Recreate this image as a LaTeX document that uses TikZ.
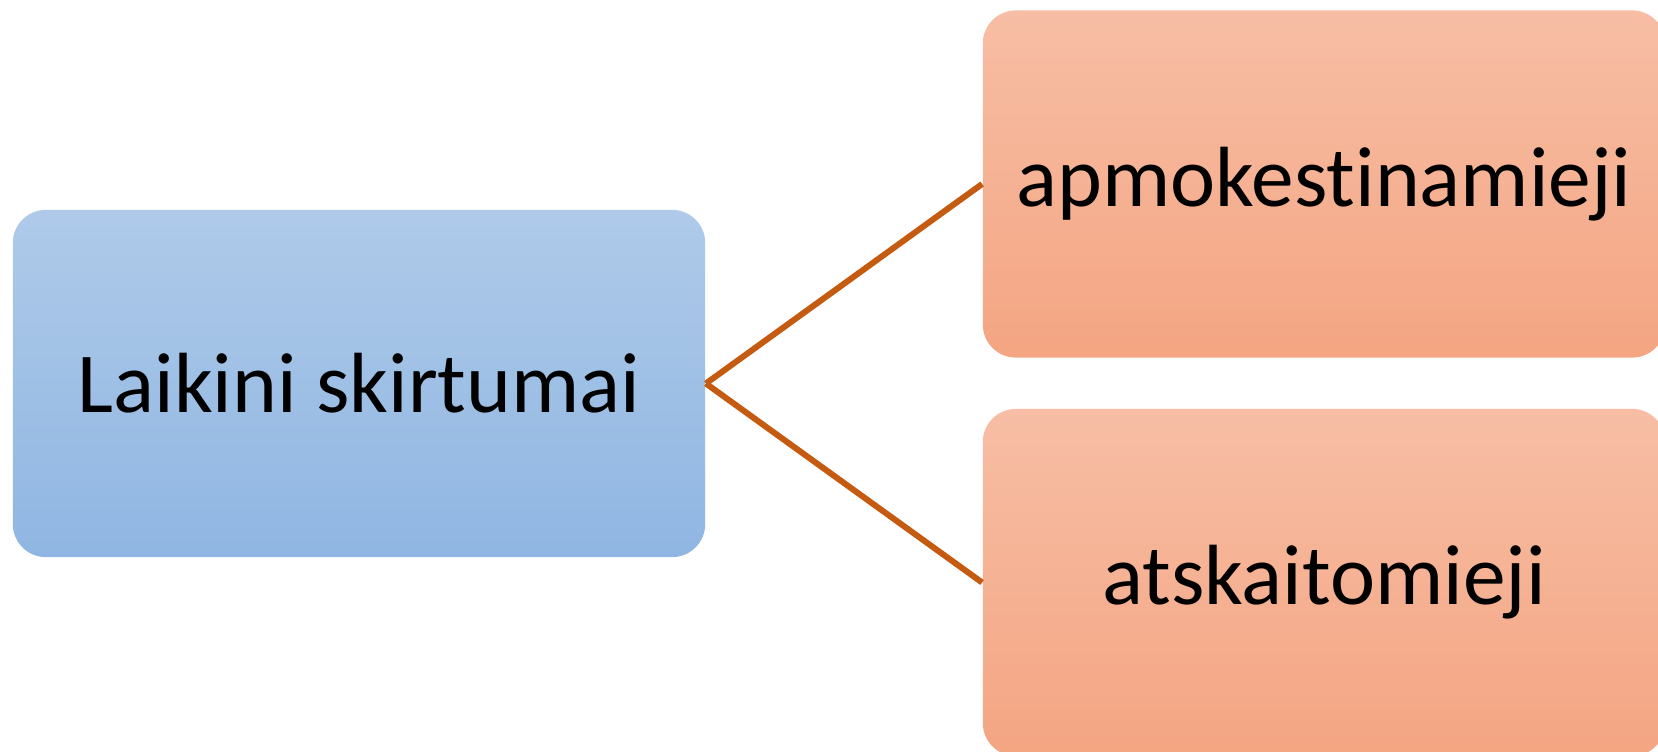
\documentclass[tikz,border=0pt]{standalone}
\usepackage{fontspec}
\setmainfont{Carlito}[Ligatures=NoCommon]
\usepackage{tikz}
\definecolor{melynT}{HTML}{AFCAE9}
\definecolor{melynB}{HTML}{8FB6E2}
\definecolor{oranzT}{HTML}{F7BEA5}
\definecolor{oranzB}{HTML}{F4A582}
\definecolor{linija}{HTML}{C55A11}
\tikzset{
  blokas/.style={rounded corners=0.33cm,inner sep=0pt,font=\fontsize{24.3}{29}\selectfont},
  melynas/.style={blokas,top color=melynT,bottom color=melynB,minimum width=6.92cm,minimum height=3.47cm},
  oranzinis/.style={blokas,top color=oranzT,bottom color=oranzB,minimum width=6.82cm,minimum height=3.47cm},
  jungtis/.style={draw=linija,line width=0.06cm}
}
\begin{document}
\begin{tikzpicture}[x=0.01cm,y=-0.01cm]
\useasboundingbox (0,0) rectangle (1658,752);
% ---- blokai ----
\node[melynas] (laik) at (359,383.5) {Laikini skirtumai};
\node[oranzinis] (apm) at (1324,184) {apmokestinamieji};
\node[oranzinis] (ats) at (1324,582.5) {atskaitomieji};
% ---- jungtys ----
\draw[jungtis] (laik.east) -- (apm.west);
\draw[jungtis] (laik.east) -- (ats.west);
\end{tikzpicture}
\end{document}
